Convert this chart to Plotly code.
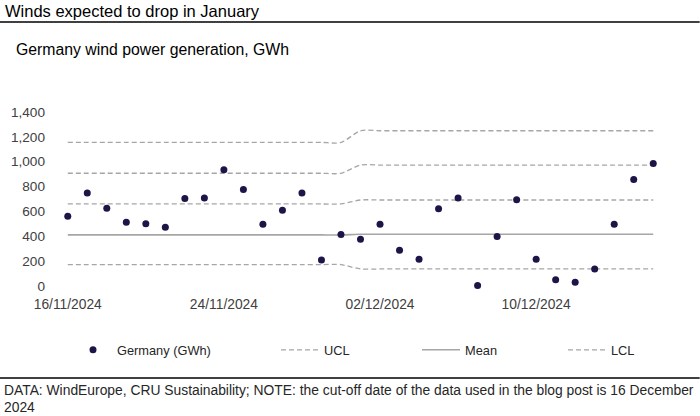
import plotly.graph_objects as go
import pandas as pd

# ---------------- data ----------------
dates = pd.date_range("2024-11-16", "2024-12-16", freq="D")
germany = [562, 749, 626, 513, 500, 473, 704, 709, 935, 777, 497, 610, 749, 210, 414,
           376, 497, 288, 215, 621, 709, 5, 398, 693, 215, 51, 30, 137, 497, 857, 985]
ucl = [1155]*15 + [1249]*16
upper2 = [907]*15 + [973]*16
upper1 = [660]*15 + [692]*16
mean = [411]*15 + [416]*16
lcl = [172]*15 + [137]*16
x_tick_dates = ["2024-11-16", "2024-11-24", "2024-12-02", "2024-12-10"]
x_tick_labels = ["16/11/2024", "24/11/2024", "02/12/2024", "10/12/2024"]
y_ticks = [0, 200, 400, 600, 800, 1000, 1200, 1400]

# ---------------- layout geometry ----------------
W_FIG, H_FIG = 700, 416
L, R_EDGE = 58.2, 663.3
TOP, BOT = 112.3, 285.7
PW, PH = R_EDGE - L, BOT - TOP

def px_x(p):
    return (p - L) / PW

def px_y(p):
    return (BOT - p) / PH

FONT = "Liberation Sans, Arial, sans-serif"
GRAY = "#a6a6a6"
DOT = "#1b1548"
TXT = "#404040"

fig = go.Figure()

dash_style = dict(color=GRAY, width=1.3, dash="5px,3px")
fig.add_trace(go.Scatter(x=dates, y=upper1, mode="lines", line=dict(**dash_style, shape="spline", smoothing=0.8),
                         showlegend=False, hoverinfo="skip"))
fig.add_trace(go.Scatter(x=dates, y=upper2, mode="lines", line=dict(**dash_style, shape="spline", smoothing=0.8),
                         showlegend=False, hoverinfo="skip"))
fig.add_trace(go.Scatter(x=dates, y=ucl, mode="lines", name="UCL", legend="legend2",
                         line=dict(**dash_style, shape="spline", smoothing=0.8)))
fig.add_trace(go.Scatter(x=dates, y=mean, mode="lines", name="Mean", legend="legend3",
                         line=dict(color=GRAY, width=1.6, shape="spline", smoothing=0.8)))
fig.add_trace(go.Scatter(x=dates, y=lcl, mode="lines", name="LCL", legend="legend4",
                         line=dict(**dash_style, shape="spline", smoothing=0.8)))
fig.add_trace(go.Scatter(x=dates, y=germany, mode="markers", name="Germany (GWh)", legend="legend",
                         marker=dict(color=DOT, size=7), cliponaxis=False))

leg_common = dict(orientation="h", xref="container", yref="container", xanchor="left",
                  yanchor="middle", y=1 - 350 / H_FIG, bgcolor="rgba(0,0,0,0)",
                  itemwidth=38,
                  font=dict(family=FONT, size=12.8, color="#262626"))

footer_style = dict(xref="paper", yref="paper", xanchor="left", yanchor="middle",
                    align="left", showarrow=False,
                    font=dict(family=FONT, size=13.85, color="#262626"))

fig.update_layout(
    width=W_FIG, height=H_FIG,
    margin=dict(l=L, r=W_FIG - R_EDGE, t=TOP, b=H_FIG - BOT, pad=0),
    paper_bgcolor="white", plot_bgcolor="white",
    font=dict(family=FONT, color=TXT),
    xaxis=dict(type="date", range=["2024-11-15 12:00", "2024-12-16 12:00"],
               tickvals=x_tick_dates, ticktext=x_tick_labels,
               showgrid=False, zeroline=False, showline=False, ticks="",
               tickfont=dict(family=FONT, size=13.8, color=TXT), ticklabelstandoff=8),
    yaxis=dict(range=[0, 1400], tickvals=y_ticks, tickformat=",",
               showgrid=False, zeroline=False, showline=False, ticks="",
               tickfont=dict(family=FONT, size=13.6, color=TXT), ticklabelstandoff=12),
    legend=dict(**leg_common, x=69 / W_FIG),
    legend2=dict(**leg_common, x=276 / W_FIG),
    legend3=dict(**leg_common, x=417 / W_FIG),
    legend4=dict(**leg_common, x=563 / W_FIG),
    shapes=[
        dict(type="line", xref="paper", yref="paper", x0=px_x(0), x1=px_x(700),
             y0=px_y(22.7), y1=px_y(22.7), line=dict(color="black", width=1.5)),
        dict(type="line", xref="paper", yref="paper", x0=px_x(0), x1=px_x(700),
             y0=px_y(377.5), y1=px_y(377.5), line=dict(color="black", width=1.5)),
    ],
    annotations=[
        dict(text="Winds expected to drop in January", xref="paper", yref="paper",
             x=px_x(3), y=px_y(11.7), xanchor="left", yanchor="middle", showarrow=False,
             font=dict(family=FONT, size=16.5, color="black")),
        dict(text="Germany wind power generation, GWh", xref="paper", yref="paper",
             x=px_x(14), y=px_y(50), xanchor="left", yanchor="middle", showarrow=False,
             font=dict(family=FONT, size=15.8, color="black")),
        dict(text="DATA: WindEurope, CRU Sustainability; NOTE: the cut-off date of the data used in the blog post is 16 December",
             x=px_x(2), y=px_y(389), **footer_style),
        dict(text="2024", x=px_x(2), y=px_y(406), **footer_style),
    ],
)

fig.write_html("out.html", config={"displayModeBar": False},
               post_script="document.body.style.margin='0px';document.body.style.overflow='hidden';")
